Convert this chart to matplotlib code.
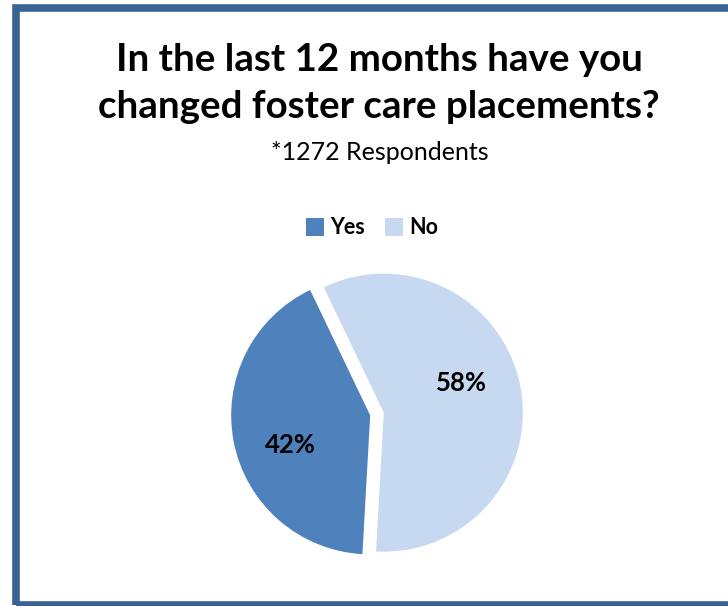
import matplotlib.pyplot as plt
from matplotlib.patches import Rectangle

labels = ['Yes', 'No']
shares = [42, 58]
colors = ['#4F81BD', '#C6D9F0']

plt.rcParams['font.family'] = ['Lato', 'DejaVu Sans']

W, H = 728, 606
fig = plt.figure(figsize=(W / 100, H / 100), dpi=100)
fig.patch.set_facecolor('white')

# dark blue frame, open on the right side
fig.patches.append(Rectangle((15.5 / W, 1 - 604.5 / H), 800 / W, (604.5 - 7.5) / H,
                             transform=fig.transFigure, fill=False,
                             edgecolor='#3A6393', linewidth=5.5, zorder=0))

fig.text(379 / W, 1 - 60 / H, 'In the last 12 months have you', ha='center', va='center',
         fontsize=27.7, fontweight='bold')
fig.text(379 / W, 1 - 107 / H, 'changed foster care placements?', ha='center', va='center',
         fontsize=27.7, fontweight='bold')
fig.text(380 / W, 1 - 153 / H, '*1272 Respondents', ha='center', va='center', fontsize=18)

# pie area
r_px = 139
cx, cy = 377, 414
ax = fig.add_axes([(cx - r_px * 1.2) / W, 1 - (cy + r_px * 1.2) / H,
                   2 * r_px * 1.2 / W, 2 * r_px * 1.2 / H])
wedges, texts, autotexts = ax.pie(
    shares, colors=colors, explode=[0.05, 0.05], startangle=266.8, counterclock=False,
    radius=1.0, autopct='%d%%', pctdistance=0.6,
    textprops=dict(fontsize=18.5, fontweight='bold', color='black'),
    wedgeprops=dict(linewidth=0))
# percentage labels sit a little off the wedge bisectors
autotexts[0].set_position((-0.62, -0.22))
autotexts[1].set_position((0.61, 0.22))
ax.set_xlim(-1.2, 1.2)
ax.set_ylim(-1.2, 1.2)
ax.set_aspect('equal')
ax.axis('off')

leg = fig.legend(wedges, labels, loc='center', bbox_to_anchor=(372 / W, 1 - 228 / H),
                 ncol=2, frameon=False, handlelength=0.85, handleheight=0.85,
                 handletextpad=0.3, columnspacing=0.9,
                 prop=dict(size=15.5, weight='bold'))

fig.savefig('out.png', dpi=100, facecolor='white')
